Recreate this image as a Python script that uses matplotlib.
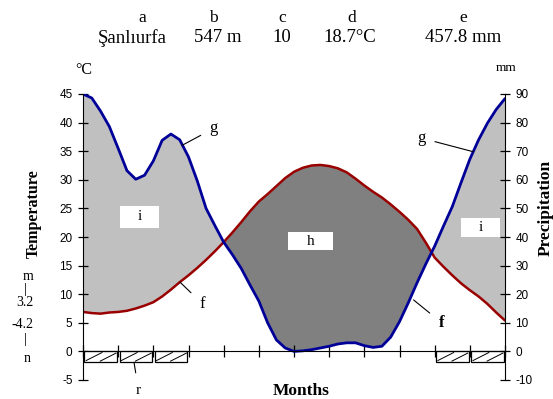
import numpy as np
import matplotlib
matplotlib.use("Agg")
import matplotlib.pyplot as plt

# ---- data ----
months_x = np.arange(0, 12.01, 0.25)
temperature = [6.9, 6.7, 6.6, 6.8, 6.9, 7.1, 7.5, 8.0, 8.6, 9.6, 10.8, 12.1,
               13.3, 14.6, 16.0, 17.5, 19.1, 20.8, 22.6, 24.5, 26.2, 27.5, 28.9, 30.3,
               31.4, 32.1, 32.5, 32.6, 32.4, 32.0, 31.3, 30.2, 29.0, 27.9, 26.9, 25.7,
               24.4, 23.0, 21.4, 19.0, 16.4, 14.8, 13.3, 11.9, 10.7, 9.6, 8.3, 6.8, 5.4]
precip_mm = [90.0, 88.6, 84.0, 78.6, 71.0, 63.2, 60.2, 61.6, 66.6, 73.8, 76.0, 74.0,
             68.0, 59.6, 50.0, 44.0, 38.2, 33.8, 29.0, 23.2, 17.6, 10.0, 4.0, 1.2,
             0.0, 0.2, 0.6, 1.2, 1.8, 2.6, 3.0, 3.0, 2.0, 1.4, 1.8, 5.0,
             10.4, 17.0, 24.0, 30.6, 36.8, 43.8, 50.6, 59.0, 67.2, 74.0, 79.8, 84.6, 88.4]
frost_months = [0, 1, 2, 10, 11]
temp_ticks = [-5, 0, 5, 10, 15, 20, 25, 30, 35, 40, 45]
prec_ticks = [-10, 0, 10, 20, 30, 40, 50, 60, 70, 80, 90]
header_keys = ["a", "b", "c", "d", "e"]
header_vals = ["Şanlıurfa", "547 m", "10", "18.7°C", "457.8 mm"]
side_vals = ["m", "|", "3.2", "-4.2", "|", "n"]

W, H = 553, 399
fig = plt.figure(figsize=(W / 100, H / 100), dpi=100)
ax = fig.add_axes([83 / W, 1 - 380 / H, (505 - 83) / W, (380 - 94) / H])

t = np.array(temperature)
p = np.array(precip_mm) / 2.0

ax.fill_between(months_x, t, p, where=p >= t, interpolate=True, color="#c0c0c0", lw=0)
ax.fill_between(months_x, t, p, where=p <= t, interpolate=True, color="#808080", lw=0)
ax.plot(months_x, t, color="#990000", lw=1.8, solid_capstyle="round")
ax.plot(months_x, p, color="#000099", lw=2.0, solid_capstyle="round")

# frost bars
for m in frost_months:
    x0, x1 = m + 0.04, m + 0.97
    ax.add_patch(plt.Rectangle((x0, -1.9), x1 - x0, 1.9, facecolor="white",
                               edgecolor="black", lw=0.9, zorder=3))
    ax.plot([x0 + 0.05, x0 + 0.5], [-1.6, -0.2], color="black", lw=0.7, zorder=4)
    ax.plot([x0 + 0.45, x0 + 0.9], [-1.7, -0.3], color="black", lw=0.7, zorder=4)

ax.set_xlim(0, 12)
ax.set_ylim(-5, 45)
ax.spines["top"].set_visible(False)
ax.spines["right"].set_visible(False)
ax.spines["bottom"].set_position(("data", 0))
ax.spines["bottom"].set_zorder(5)
ax.set_xticks(range(13))
ax.set_xticklabels([])
ax.tick_params(axis="x", direction="inout", length=8, width=0.9)
ax.set_yticks(temp_ticks)
ax.set_yticklabels([str(v) for v in temp_ticks], fontsize=8.5, family="Liberation Sans")
ax.tick_params(axis="y", direction="inout", length=7, width=0.9, pad=4)
ax.set_facecolor("none")

ax2 = ax.twinx()
ax2.set_ylim(-10, 90)
ax2.set_yticks(prec_ticks)
ax2.set_yticklabels([str(v) for v in prec_ticks], fontsize=8.5, family="Liberation Sans")
ax2.tick_params(axis="y", direction="inout", length=7, width=0.9, pad=4)
for s in ["top", "bottom", "left"]:
    ax2.spines[s].set_visible(False)

serif = "Liberation Serif"

def label_box(cx, cy, w, h, s):
    ax.add_patch(plt.Rectangle((cx - w / 2, cy - h / 2), w, h, facecolor="white",
                               edgecolor="none", zorder=6))
    ax.text(cx, cy, s, ha="center", va="center", fontsize=11, family=serif, zorder=7)

label_box(1.62, 23.5, 1.11, 3.7, "i")
label_box(6.47, 19.3, 1.28, 3.2, "h")
label_box(11.3, 21.7, 1.11, 3.4, "i")

# curve labels with leader lines
ax.annotate("g", xy=(2.81, 36.0), xytext=(3.72, 39.0), fontsize=12, family=serif,
            ha="center", va="center",
            arrowprops=dict(arrowstyle="-", lw=0.8, color="black", shrinkA=5, shrinkB=0))
ax.annotate("g", xy=(11.1, 34.9), xytext=(9.62, 37.3), fontsize=12, family=serif,
            ha="center", va="center",
            arrowprops=dict(arrowstyle="-", lw=0.8, color="black", shrinkA=5, shrinkB=0))
ax.annotate("f", xy=(2.76, 12.1), xytext=(3.4, 8.3), fontsize=12, family=serif,
            ha="center", va="center",
            arrowprops=dict(arrowstyle="-", lw=0.8, color="black", shrinkA=6, shrinkB=0))
ax.annotate("f", xy=(9.4, 9.0), xytext=(10.2, 5.0), fontsize=12, family=serif,
            fontweight="bold", ha="center", va="center",
            arrowprops=dict(arrowstyle="-", lw=0.8, color="black", shrinkA=6, shrinkB=0))
ax.annotate("r", xy=(1.45, -1.9), xytext=(1.58, -6.8), fontsize=11, family=serif,
            ha="center", va="center", annotation_clip=False,
            arrowprops=dict(arrowstyle="-", lw=0.8, color="black", shrinkA=6, shrinkB=0))

def ftext(x, y, s, **kw):
    fig.text(x / W, 1 - y / H, s, ha="center", va="center", **kw)

kx = [142, 213, 282, 352, 463]
vx = [132, 218, 282, 350, 463]
for k, xk, v, xv in zip(header_keys, kx, header_vals, vx):
    ftext(xk, 18, k, fontsize=12.5, family=serif)
    ftext(xv, 38, v, fontsize=13.5, family=serif)

ftext(84, 70, "°C", fontsize=11.5, family=serif)
ftext(506, 68, "mm", fontsize=9.5, family=serif)
ftext(34, 214, "Temperature", fontsize=11.5, family=serif, fontweight="bold", rotation=90)
ftext(546, 208, "Precipitation", fontsize=12.5, family=serif, fontweight="bold", rotation=90)
ftext(301, 391, "Months", fontsize=12.5, family=serif, fontweight="bold")

side_y = [277, 289, 303, 324, 339, 358]
side_x = [28, 25, 25, 22, 25, 27]
for s, xs, ys in zip(side_vals, side_x, side_y):
    ftext(xs, ys, s, fontsize=10, family=serif)

fig.savefig("out.png", dpi=100)
